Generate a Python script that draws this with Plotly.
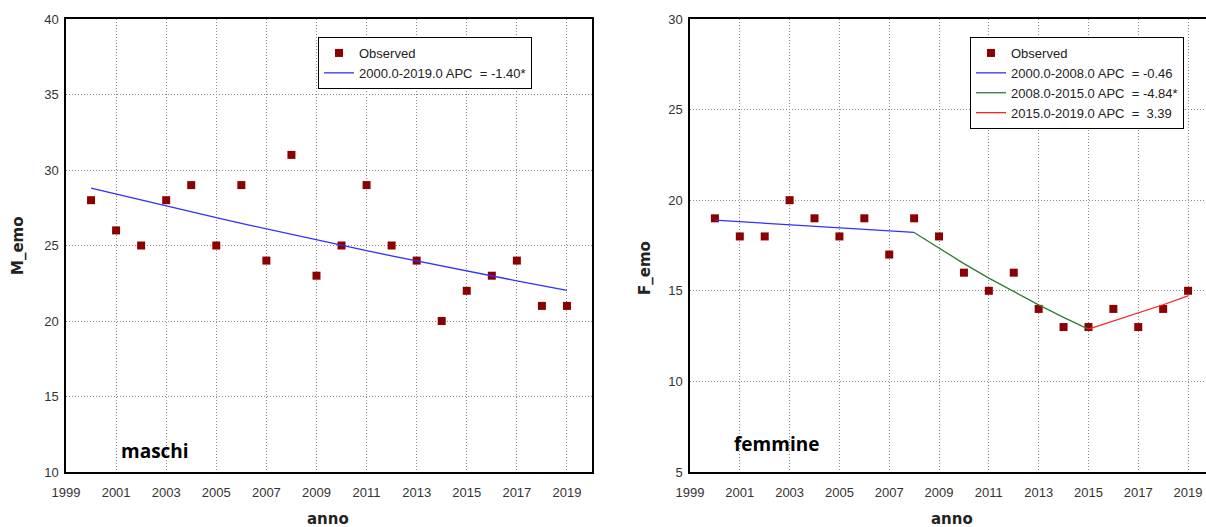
import plotly.graph_objects as go

years = list(range(2000, 2020))
m_obs = [28, 26, 25, 28, 29, 25, 29, 24, 31, 23, 25, 29, 25, 24, 20, 22, 23, 24, 21, 21]
m_fit = [28.80, 28.40, 28.00, 27.61, 27.22, 26.84, 26.46, 26.09, 25.73, 25.37,
         25.01, 24.66, 24.31, 23.97, 23.64, 23.31, 22.98, 22.66, 22.34, 22.03]

f_obs = [19, 18, 18, 20, 19, 18, 19, 17, 19, 18, 16, 15, 16, 14, 13, 13, 14, 13, 14, 15]
f_seg1_years = list(range(2000, 2009))
f_seg1 = [18.90, 18.81, 18.73, 18.64, 18.56, 18.47, 18.39, 18.30, 18.22]
f_seg2_years = list(range(2008, 2016))
f_seg2 = [18.22, 17.34, 16.50, 15.70, 14.94, 14.22, 13.53, 12.88]
f_seg3_years = list(range(2015, 2020))
f_seg3 = [12.88, 13.32, 13.77, 14.23, 14.72]

x_ticks = list(range(1999, 2020, 2))
m_yticks = [10, 15, 20, 25, 30, 35, 40]
f_yticks = [5, 10, 15, 20, 25, 30]

W, H = 1206, 527
MK = dict(symbol="square", size=8, color="#8B0000")
TICKFONT = dict(family="Liberation Sans Narrow, Arial Narrow, Liberation Sans, sans-serif", size=13, color="#333333")
LEGFONT = dict(family="Liberation Sans Narrow, Arial Narrow, Liberation Sans, sans-serif", size=13, color="#222222")

fig = go.Figure()

# Left: maschi
fig.add_trace(go.Scatter(x=years, y=m_obs, mode="markers", marker=MK, name="Observed",
                         xaxis="x", yaxis="y", legend="legend"))
fig.add_trace(go.Scatter(x=years, y=m_fit, mode="lines", line=dict(color="#3030FF", width=1.3),
                         name="2000.0-2019.0 APC  = -1.40*", xaxis="x", yaxis="y", legend="legend"))

# Right: femmine
fig.add_trace(go.Scatter(x=years, y=f_obs, mode="markers", marker=MK, name="Observed",
                         xaxis="x2", yaxis="y2", legend="legend2"))
fig.add_trace(go.Scatter(x=f_seg1_years, y=f_seg1, mode="lines", line=dict(color="#3030FF", width=1.3),
                         name="2000.0-2008.0 APC  = -0.46", xaxis="x2", yaxis="y2", legend="legend2"))
fig.add_trace(go.Scatter(x=f_seg2_years, y=f_seg2, mode="lines", line=dict(color="#2E7D32", width=1.3),
                         name="2008.0-2015.0 APC  = -4.84*", xaxis="x2", yaxis="y2", legend="legend2"))
fig.add_trace(go.Scatter(x=f_seg3_years, y=f_seg3, mode="lines", line=dict(color="#FF2020", width=1.3),
                         name="2015.0-2019.0 APC  =  3.39", xaxis="x2", yaxis="y2", legend="legend2"))

def px_x(p):
    return p / W

def px_y(p):
    return (H - p) / H

axis_common = dict(showgrid=True, gridcolor="#8a8a8a", griddash="1px,2px", gridwidth=1,
                   showline=True, linecolor="black", linewidth=1.5, mirror=True,
                   zeroline=False, tickfont=TICKFONT, ticks="", automargin=False)

fig.update_layout(
    width=W, height=H,
    margin=dict(l=0, r=0, t=0, b=0),
    paper_bgcolor="white", plot_bgcolor="white",
    showlegend=True,
    xaxis=dict(domain=[px_x(66), px_x(592)], range=[1999, 2020], tickvals=x_ticks,
               ticklabelstandoff=8, anchor="y", **axis_common),
    yaxis=dict(domain=[px_y(472), px_y(19)], range=[10, 40], tickvals=m_yticks,
               ticklabelstandoff=3, anchor="x", **axis_common),
    xaxis2=dict(domain=[px_x(690), 1.0], range=[1999, 2019.72], tickvals=x_ticks,
                ticklabelstandoff=8, anchor="y2", **axis_common),
    yaxis2=dict(domain=[px_y(472), px_y(19)], range=[5, 30], tickvals=f_yticks,
                ticklabelstandoff=3, anchor="x2", **axis_common),
    legend=dict(x=px_x(318), y=px_y(37), xanchor="left", yanchor="top",
                bgcolor="white", bordercolor="black", borderwidth=1,
                font=LEGFONT, tracegroupgap=0, itemwidth=30),
    legend2=dict(x=px_x(970), y=px_y(37), xanchor="left", yanchor="top",
                 bgcolor="white", bordercolor="black", borderwidth=1,
                 font=LEGFONT, tracegroupgap=0, itemwidth=30),
)

TITLEFONT = dict(family="DejaVu Sans, Verdana, sans-serif", size=15, color="#222222")
ann = [
    dict(text="<b>M_emo</b>", x=px_x(18), y=px_y(246), textangle=-90),
    dict(text="<b>anno</b>", x=px_x(328), y=px_y(519)),
    dict(text="<b>F_emo</b>", x=px_x(645), y=px_y(268), textangle=-90),
    dict(text="<b>anno</b>", x=px_x(952), y=px_y(519)),
]
for a in ann:
    fig.add_annotation(xref="paper", yref="paper", showarrow=False, font=TITLEFONT,
                       xanchor="center", yanchor="middle", **a)

LABELFONT = dict(family="Open Sans, Noto Sans, sans-serif", size=19, color="black")
fig.add_annotation(xref="paper", yref="paper", x=px_x(119), y=px_y(451), text="<b>maschi</b>",
                   showarrow=False, xanchor="left", yanchor="middle", font=LABELFONT)
fig.add_annotation(xref="paper", yref="paper", x=px_x(732), y=px_y(444), text="<b>femmine</b>",
                   showarrow=False, xanchor="left", yanchor="middle", font=LABELFONT)

fig.write_html("out.html", config={"displayModeBar": False},
               post_script="document.body.style.margin='0';document.body.style.overflow='hidden';")
